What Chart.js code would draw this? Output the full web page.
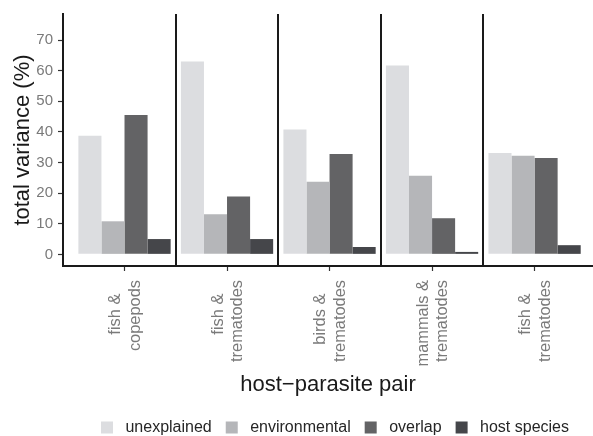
<!DOCTYPE html>
<html>
<head>
<meta charset="utf-8">
<title>total variance by host-parasite pair</title>
<script src="https://cdn.jsdelivr.net/npm/chart.js@4.4.1/dist/chart.umd.min.js"></script>
<style>
  html, body { margin: 0; padding: 0; background: #ffffff; }
  canvas { display: block; }
</style>
</head>
<body>
<canvas id="varianceChart" width="593" height="436"></canvas>
<script>
/* global Chart */

// host-parasite pairs (two lines each, as on the axis)
const PAIRS = [
  ['fish &   ', 'copepods'],
  ['fish &   ', 'trematodes'],
  ['birds &   ', 'trematodes'],
  ['mammals &', 'trematodes'],
  ['fish &   ', 'trematodes']
]

const COMPONENTS = ['unexplained', 'environmental', 'overlap', 'host species']

// % of total variance
const UNEXPLAINED = [38.7, 63.0, 40.8, 61.7, 33.1]
const ENVIRONMENTAL = [10.8, 13.1, 23.7, 25.7, 32.2]
const OVERLAP = [45.5, 18.9, 32.8, 11.8, 31.5]
const HOST_SPECIES = [5.0, 5.0, 2.4, 0.8, 3.0]

const Y_TICKS = [0, 10, 20, 30, 40, 50, 60, 70]

const FILLS = ['#dcdde0', '#b5b6b9', '#636365', '#45464a']

const FONT = 'Liberation Sans, Arial, Helvetica, sans-serif'
const AXIS_DARK = '#1a1a1a'
const TICK_GREY = '#7a7a7a'

const SERIES = [UNEXPLAINED, ENVIRONMENTAL, OVERLAP, HOST_SPECIES]

const datasets = COMPONENTS.map((name, k) => ({
  label: name,
  data: SERIES[k].map((v, i) => ({ x: i, y: v })),
  backgroundColor: FILLS[k],
  borderWidth: 0,
  categoryPercentage: 0.9,
  barPercentage: 1.0
}))

// dark lines between the pairs
const pairSeparators = {
  id: 'pairSeparators',
  afterDatasetsDraw(chart) {
    const { ctx, chartArea, scales } = chart
    ctx.save()
    ctx.strokeStyle = AXIS_DARK
    ctx.lineWidth = 2
    for (let i = 0; i < PAIRS.length - 1; i++) {
      const x = Math.round(scales.x.getPixelForValue(i + 0.5))
      ctx.beginPath()
      ctx.moveTo(x, chartArea.top)
      ctx.lineTo(x, chartArea.bottom)
      ctx.stroke()
    }
    ctx.restore()
  }
}

// ggplot puts the legend under the panel, a bit lower than chart.js does
const legendNudge = {
  id: 'legendNudge',
  afterLayout(chart) {
    const legend = chart.legend
    if (!legend) return
    const pad = legend.options.labels.padding
    const dx = 335 - (legend.left + legend.right) / 2
    const dy = 427.5 - (legend.top + pad + 8)
    legend.left += dx
    legend.right += dx
    legend.top += dy
    legend.bottom += dy
  }
}

new Chart(document.getElementById('varianceChart'), {
  type: 'bar',
  data: { datasets },
  plugins: [pairSeparators, legendNudge],
  options: {
    responsive: false,
    animation: false,
    devicePixelRatio: 1,
    layout: {
      padding: { top: 12, right: 0, bottom: 0, left: 0 }
    },
    plugins: {
      tooltip: { enabled: false },
      legend: {
        position: 'bottom',
        labels: {
          boxWidth: 12,
          boxHeight: 12,
          padding: 14,
          color: '#262626',
          font: { family: FONT, size: 16 },
          generateLabels(chart) {
            return Chart.defaults.plugins.legend.labels.generateLabels(chart)
              .map(item => ({ ...item, text: ' ' + item.text }))
          }
        }
      }
    },
    scales: {
      x: {
        type: 'linear',
        offset: false,
        min: -0.6,
        max: 4.57,
        afterBuildTicks(scale) {
          scale.ticks = PAIRS.map((p, i) => ({ value: i }))
        },
        afterFit(scale) {
          scale.height = 130
        },
        grid: {
          offset: false,
          drawOnChartArea: false,
          drawTicks: true,
          tickLength: 5,
          tickColor: '#333333',
          tickWidth: 1.2
        },
        border: { display: true, color: AXIS_DARK, width: 2 },
        ticks: {
          autoSkip: false,
          minRotation: 90,
          maxRotation: 90,
          padding: 9,
          labelOffset: -9,
          color: TICK_GREY,
          font: { family: FONT, size: 16.4, lineHeight: 1.2 },
          callback(value, index) {
            return PAIRS[index]
          }
        },
        title: {
          display: true,
          text: 'host\u2212parasite pair',
          color: AXIS_DARK,
          font: { family: FONT, size: 22 },
          padding: { top: 0, bottom: -2 }
        }
      },
      y: {
        min: -3.8,
        max: 78.5,
        afterBuildTicks(scale) {
          scale.ticks = Y_TICKS.map(v => ({ value: v }))
        },
        afterFit(scale) {
          scale.width = 63
        },
        grid: {
          drawOnChartArea: false,
          drawTicks: true,
          tickLength: 5,
          tickColor: '#333333',
          tickWidth: 1.2
        },
        border: { display: true, color: AXIS_DARK, width: 2 },
        ticks: {
          padding: 5,
          color: TICK_GREY,
          font: { family: FONT, size: 15 }
        },
        title: {
          display: true,
          text: 'total variance (%)',
          color: AXIS_DARK,
          font: { family: FONT, size: 22 },
          padding: { top: 10, bottom: 0 }
        }
      }
    }
  }
})
</script>
</body>
</html>
